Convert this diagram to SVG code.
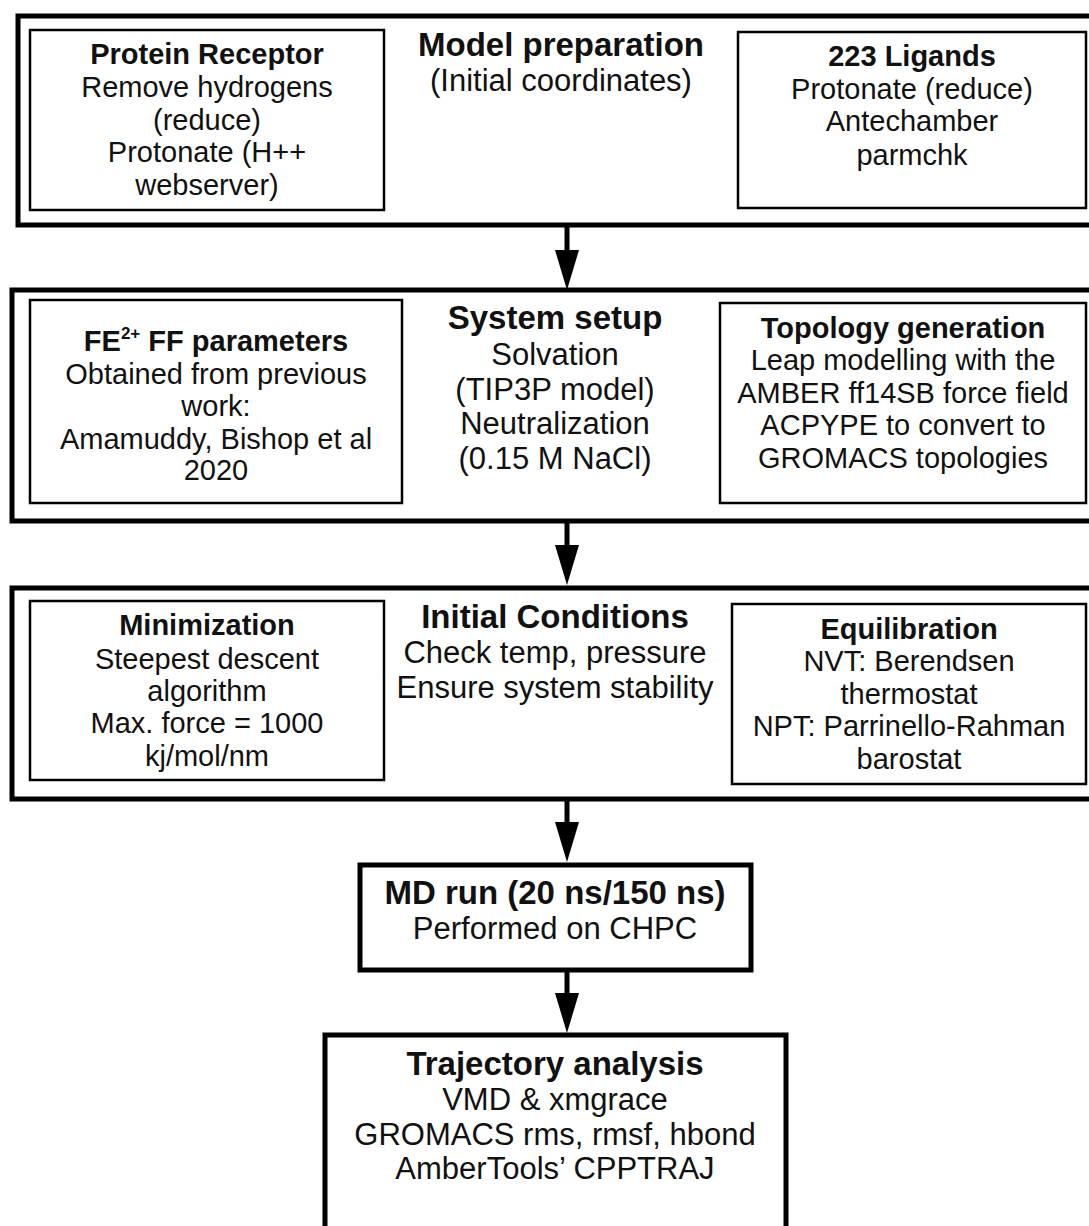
<svg xmlns="http://www.w3.org/2000/svg" width="1089" height="1226" viewBox="0 0 1089 1226">
<defs>
<style>
.outer{fill:none;stroke:#000;stroke-width:5}
.inner{fill:none;stroke:#000;stroke-width:2.5}
text{font-family:"Liberation Sans",Arial,sans-serif;fill:#111;text-anchor:middle}
.h{font-weight:bold;font-size:33px}
.t{font-size:31px}
.hb{font-weight:bold;font-size:29px}
.b{font-size:29px}
.shaft{stroke:#000;stroke-width:5;fill:none}
.head{fill:#000}
</style>
</defs>
<rect width="1089" height="1226" fill="#fff"/>

<g id="model-preparation">
<rect class="outer" x="18" y="16" width="1080" height="209"/>
<text class="h" x="561" y="56">Model preparation</text>
<text class="t" x="561" y="91">(Initial coordinates)</text>
</g>
<g id="protein-receptor">
<rect class="inner" x="30" y="30" width="354" height="180"/>
<text class="hb" x="207" y="64">Protein Receptor</text>
<text class="b" x="207" y="97">Remove hydrogens</text>
<text class="b" x="207" y="130">(reduce)</text>
<text class="b" x="207" y="162">Protonate (H++</text>
<text class="b" x="207" y="195">webserver)</text>
</g>
<g id="ligands">
<rect class="inner" x="738" y="32" width="348" height="176"/>
<text class="hb" x="912" y="66">223 Ligands</text>
<text class="b" x="912" y="99">Protonate (reduce)</text>
<text class="b" x="912" y="131">Antechamber</text>
<text class="b" x="912" y="165">parmchk</text>
</g>

<g id="system-setup">
<rect class="outer" x="12" y="290" width="1086" height="231"/>
<text class="h" x="555" y="329">System setup</text>
<text class="t" x="555" y="365">Solvation</text>
<text class="t" x="555" y="400">(TIP3P model)</text>
<text class="t" x="555" y="434">Neutralization</text>
<text class="t" x="555" y="469">(0.15 M NaCl)</text>
</g>
<g id="fe-parameters">
<rect class="inner" x="30" y="300" width="372" height="203"/>
<text class="hb" x="216" y="351">FE<tspan font-size="17" dy="-12">2+</tspan><tspan dy="12"> FF parameters</tspan></text>
<text class="b" x="216" y="384">Obtained from previous</text>
<text class="b" x="216" y="416">work:</text>
<text class="b" x="216" y="449">Amamuddy, Bishop et al</text>
<text class="b" x="216" y="480">2020</text>
</g>
<g id="topology-generation">
<rect class="inner" x="720" y="303" width="366" height="200"/>
<text class="hb" x="903" y="338">Topology generation</text>
<text class="b" x="903" y="370">Leap modelling with the</text>
<text class="b" x="903" y="403">AMBER ff14SB force field</text>
<text class="b" x="903" y="435">ACPYPE to convert to</text>
<text class="b" x="903" y="468">GROMACS topologies</text>
</g>

<g id="initial-conditions">
<rect class="outer" x="12" y="588" width="1086" height="211"/>
<text class="h" x="555" y="628">Initial Conditions</text>
<text class="t" x="555" y="663">Check temp, pressure</text>
<text class="t" x="555" y="698">Ensure system stability</text>
</g>
<g id="minimization">
<rect class="inner" x="30" y="601" width="354" height="179"/>
<text class="hb" x="207" y="635">Minimization</text>
<text class="b" x="207" y="669">Steepest descent</text>
<text class="b" x="207" y="701">algorithm</text>
<text class="b" x="207" y="733">Max. force = 1000</text>
<text class="b" x="207" y="766">kj/mol/nm</text>
</g>
<g id="equilibration">
<rect class="inner" x="732" y="604" width="354" height="180"/>
<text class="hb" x="909" y="639">Equilibration</text>
<text class="b" x="909" y="671">NVT: Berendsen</text>
<text class="b" x="909" y="704">thermostat</text>
<text class="b" x="909" y="736">NPT: Parrinello-Rahman</text>
<text class="b" x="909" y="769">barostat</text>
</g>

<g id="md-run">
<rect class="outer" x="360" y="865" width="391" height="105"/>
<text class="h" x="555" y="904">MD run (20 ns/150 ns)</text>
<text class="t" x="555" y="939">Performed on CHPC</text>
</g>

<g id="trajectory-analysis">
<rect class="outer" x="325" y="1035" width="461" height="200"/>
<text class="h" x="555" y="1075">Trajectory analysis</text>
<text class="t" x="555" y="1110">VMD &amp; xmgrace</text>
<text class="t" x="555" y="1145">GROMACS rms, rmsf, hbond</text>
<text class="t" x="555" y="1179">AmberTools’ CPPTRAJ</text>
</g>

<g id="connectors">
<line class="shaft" x1="567" y1="226" x2="567" y2="252"/>
<polygon class="head" points="555,250 579,250 567,290"/>
<line class="shaft" x1="567" y1="522" x2="567" y2="547"/>
<polygon class="head" points="555,545 579,545 567,585"/>
<line class="shaft" x1="567" y1="800" x2="567" y2="824"/>
<polygon class="head" points="555,822 579,822 567,862"/>
<line class="shaft" x1="567" y1="971" x2="567" y2="995"/>
<polygon class="head" points="555,993 579,993 567,1033"/>
</g>
</svg>
